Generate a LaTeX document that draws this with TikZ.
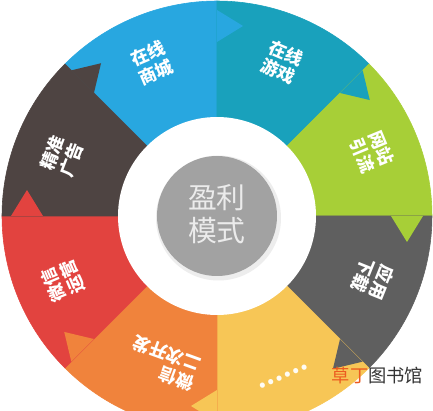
\documentclass[tikz,border=0pt]{standalone}
\usepackage{fontspec}
\newfontfamily\cjk{Noto Sans CJK SC}
\definecolor{mallblue}{RGB}{40,167,224}
\definecolor{gameteal}{RGB}{25,161,188}
\definecolor{webgreen}{RGB}{167,207,55}
\definecolor{appgray}{RGB}{95,95,95}
\definecolor{moreyellow}{RGB}{247,198,86}
\definecolor{devorange}{RGB}{240,131,60}
\definecolor{opsred}{RGB}{226,67,63}
\definecolor{adbrown}{RGB}{78,68,66}
\definecolor{hubgray}{RGB}{162,162,162}
\definecolor{markorange}{RGB}{236,92,32}

\begin{document}
\begin{tikzpicture}[scale=0.025,
    lbl/.style={text=white,font=\cjk\bfseries\fontsize{12.5}{14.5}\selectfont,align=left,inner sep=0pt}]
  \useasboundingbox (-217,-195) rectangle (216,216);
  % ring of eight slices, each pushing a tip into the next one clockwise
  \foreach \a/\col in {90/mallblue,45/gameteal,0/webgreen,-45/appgray,
      -90/moreyellow,-135/devorange,180/opsred,135/adbrown}
    \filldraw[\col,line width=0.4pt](0,0)--(\a:215)arc[start angle=\a,delta angle=45,radius=215]--cycle;
  \foreach \a/\col in {90/mallblue,45/gameteal,0/webgreen,-45/appgray,
      -90/moreyellow,-135/devorange,180/opsred,135/adbrown}
    \fill[\col](\a:174)--(\a-7.8:191.8)--(\a:206)--cycle;
  \fill[white](0,0)circle(99);
  \fill[black!7](1.5,-2)circle(62.5);
  \fill[hubgray](0,0)circle(60);
  \node[text=white!92!black,font=\cjk\fontsize{20.5}{23}\selectfont,align=center,inner sep=0pt]
    (hub) at (0,2) {盈利\\模式};
  \foreach \n/\m/\r/\t in {mall/113/166/{在线\\商城},game/67/167/{在线\\游戏},
      web/22.5/168/{网站\\引流},app/-22/168/{应用\\下载},dev/-110/157/{微信\\二次开发},
      ops/-157/167/{微信\\运营},ad/159/166/{精准\\广告}}
    \node[lbl,rotate=\m-90](\n) at (\m:\r) {\t};
  \node[text=white!94!moreyellow,font=\cjk\bfseries\fontsize{17}{17}\selectfont,inner sep=0pt,rotate=22.5]
    (more) at (-67.5:174) {……};
  \node[font=\cjk\fontsize{13}{14}\selectfont,text=black!80,inner sep=0pt]
    (mark) at (160.5,-159.5) {\textcolor{markorange}{草丁}图书馆};
\end{tikzpicture}
\end{document}
